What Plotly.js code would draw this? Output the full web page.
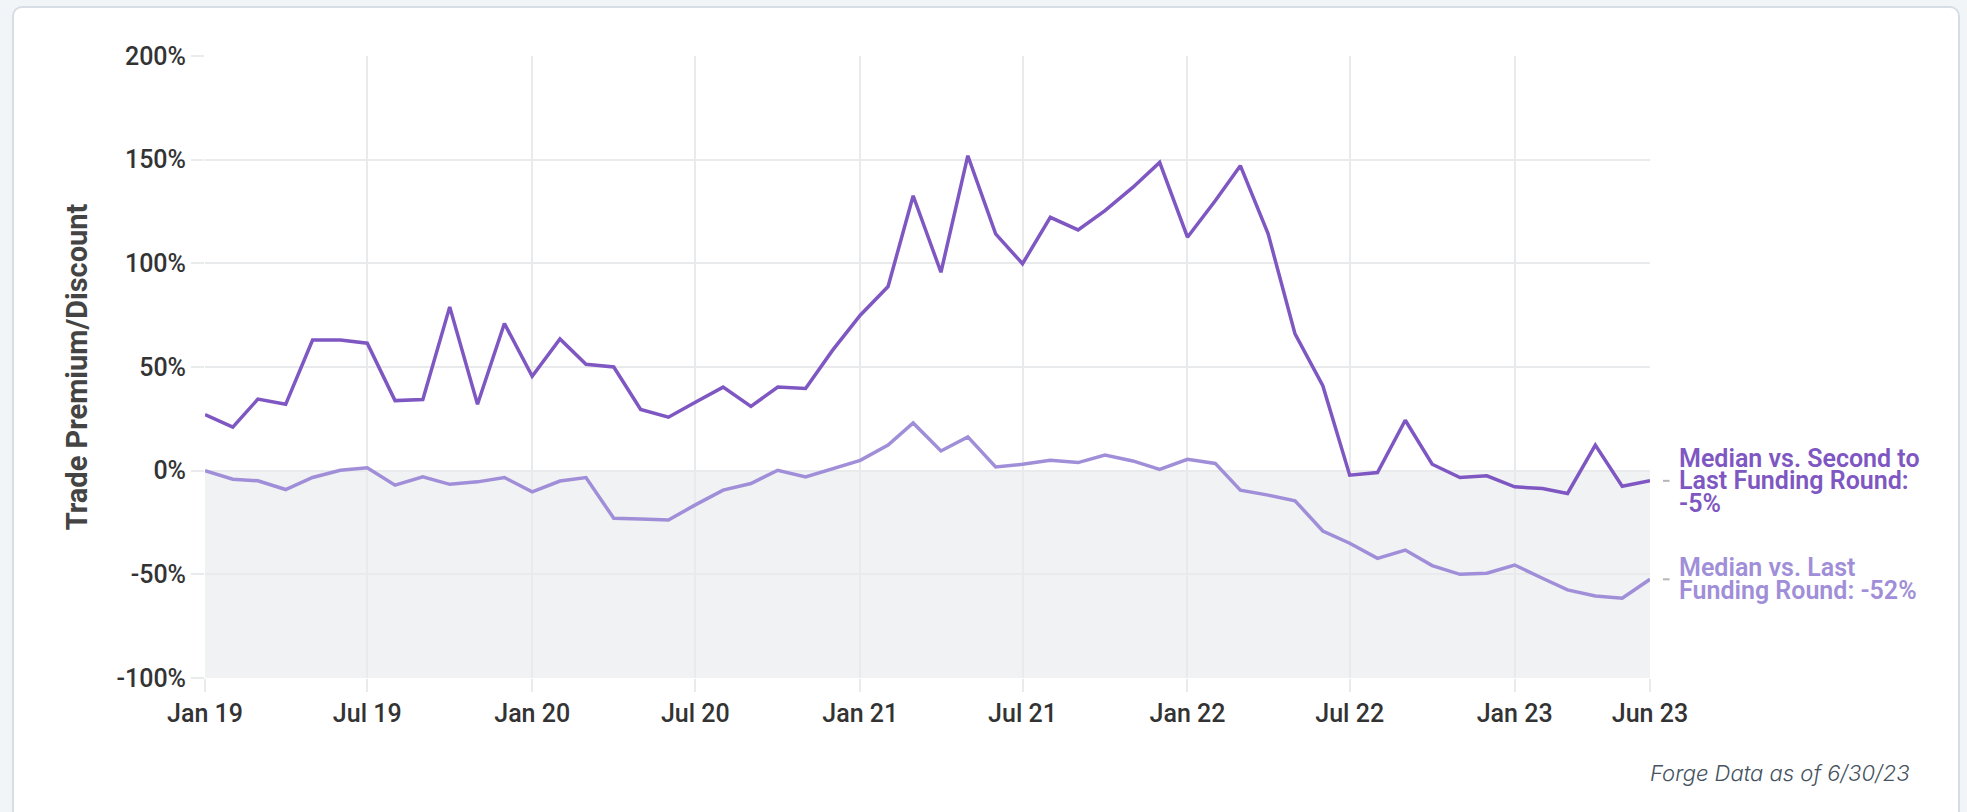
<!DOCTYPE html>
<html>
<head>
<meta charset="utf-8">
<script src="https://cdn.plot.ly/plotly-3.0.1.min.js"></script>
<style>
  html, body { margin: 0; padding: 0; width: 1967px; height: 812px; overflow: hidden; background: #f2f5f8; }
  #card { position: absolute; left: 12px; top: 6px; width: 1944px; height: 900px; background: #ffffff;
          border: 2px solid #d6dde4; border-radius: 10px; }
  #chart { position: absolute; left: 0; top: 0; width: 1967px; height: 812px; }
</style>
</head>
<body>
<div id="card"></div>
<div id="chart"></div>
<script>
// ---- data ----
const months = [
  '2019-01-01','2019-02-01','2019-03-01','2019-04-01','2019-05-01','2019-06-01',
  '2019-07-01','2019-08-01','2019-09-01','2019-10-01','2019-11-01','2019-12-01',
  '2020-01-01','2020-02-01','2020-03-01','2020-04-01','2020-05-01','2020-06-01',
  '2020-07-01','2020-08-01','2020-09-01','2020-10-01','2020-11-01','2020-12-01',
  '2021-01-01','2021-02-01','2021-03-01','2021-04-01','2021-05-01','2021-06-01',
  '2021-07-01','2021-08-01','2021-09-01','2021-10-01','2021-11-01','2021-12-01',
  '2022-01-01','2022-02-01','2022-03-01','2022-04-01','2022-05-01','2022-06-01',
  '2022-07-01','2022-08-01','2022-09-01','2022-10-01','2022-11-01','2022-12-01',
  '2023-01-01','2023-02-01','2023-03-01','2023-04-01','2023-05-01','2023-06-01'
];

const secondToLast = [
  27, 21, 34.5, 32, 63, 63, 61.5, 33.8, 34.3, 79, 32, 71,
  45.5, 63.5, 51.3, 50, 29.5, 25.8, 33, 40.3, 31, 40.3, 39.6, 58,
  75, 88.8, 132.6, 95.7, 151.9, 114.2, 99.8, 122.2, 116.1, 125.4, 136.6, 148.7,
  112.6, 130.2, 147.1, 114.2, 66, 41, -2.2, -0.9, 24.3, 3.1, -3.3, -2.5,
  -7.8, -8.6, -11, 12.3, -7.5, -4.9
];

const lastRound = [
  0, -4.1, -4.9, -9.1, -3.3, 0.2, 1.4, -7, -3, -6.6, -5.4, -3.3,
  -10.2, -5, -3.3, -23, -23.3, -23.8, -16.5, -9.4, -6.2, 0.2, -3, 1,
  5, 12.3, 23, 9.5, 16.3, 1.8, 3.1, 5, 3.9, 7.5, 4.7, 0.6,
  5.5, 3.5, -9.4, -11.8, -14.5, -29.1, -35, -42.3, -38.3, -45.8, -50, -49.5,
  -45.5, -51.9, -57.5, -60.4, -61.5, -52.4
];

const xTickVals = ['2019-01-01','2019-07-01','2020-01-01','2020-07-01','2021-01-01',
                   '2021-07-01','2022-01-01','2022-07-01','2023-01-01','2023-06-01'];
const xTickText = ['Jan 19','Jul 19','Jan 20','Jul 20','Jan 21','Jul 21','Jan 22','Jul 22','Jan 23','Jun 23'];
const yTickVals = [-100, -50, 0, 50, 100, 150, 200];
const yTickText = ['-100%', '-50%', '0%', '50%', '100%', '150%', '200%'];

const labelSecond = ['Median vs. Second to', 'Last Funding Round:', '-5%'];
const labelLast = ['Median vs. Last', 'Funding Round: -52%'];
const yAxisTitle = 'Trade Premium/Discount';
const footnote = 'Forge Data as of 6/30/23';

// ---- styles ----
const darkPurple = '#7e57c2';
const lightPurple = '#a08fd8';
const gridColor = '#e9eaec';

const traces = [
  { x: months, y: lastRound, type: 'scatter', mode: 'lines', name: 'Median vs. Last Funding Round',
    line: { color: lightPurple, width: 3.5 }, hoverinfo: 'skip' },
  { x: months, y: secondToLast, type: 'scatter', mode: 'lines', name: 'Median vs. Second to Last Funding Round',
    line: { color: darkPurple, width: 3.5 }, hoverinfo: 'skip' }
];

const lastX = months[months.length - 1];
const lastS = secondToLast[secondToLast.length - 1];
const lastL = lastRound[lastRound.length - 1];
const lineGap = 22.7;

const annotations = [];
labelSecond.forEach((t, i) => {
  annotations.push({ x: lastX, y: lastS, xref: 'x', yref: 'y', text: t, showarrow: false,
    xanchor: 'left', yanchor: 'middle', xshift: 27,
    yshift: ((labelSecond.length - 1) / 2 - i) * lineGap,
    font: { family: 'Roboto, sans-serif', size: 25, weight: 600, color: darkPurple } });
});
labelLast.forEach((t, i) => {
  annotations.push({ x: lastX, y: lastL, xref: 'x', yref: 'y', text: t, showarrow: false,
    xanchor: 'left', yanchor: 'middle', xshift: 27,
    yshift: ((labelLast.length - 1) / 2 - i) * lineGap,
    font: { family: 'Roboto, sans-serif', size: 25, weight: 600, color: lightPurple } });
});
annotations.push({ x: 1.181, y: -0.153, xref: 'paper', yref: 'paper', text: '<i>' + footnote + '</i>',
  showarrow: false, xanchor: 'right', yanchor: 'middle',
  font: { family: 'Inter, "Open Sans", sans-serif', size: 22, weight: 300, color: '#46525e' } });

const shapes = [
  { type: 'rect', xref: 'paper', yref: 'y', x0: 0, x1: 1, y0: -100, y1: 0,
    fillcolor: '#f1f2f4', line: { width: 0 }, layer: 'below' },
  { type: 'line', xref: 'paper', yref: 'y', x0: 1.009, x1: 1.0135, y0: lastS, y1: lastS,
    line: { color: '#b5b5b5', width: 2 } },
  { type: 'line', xref: 'paper', yref: 'y', x0: 1.009, x1: 1.0135, y0: lastL, y1: lastL,
    line: { color: '#b5b5b5', width: 2 } }
];

const layout = {
  width: 1967, height: 812,
  margin: { l: 205, r: 317, t: 56, b: 134 },
  paper_bgcolor: 'rgba(0,0,0,0)',
  plot_bgcolor: 'rgba(0,0,0,0)',
  showlegend: false,
  xaxis: {
    type: 'date',
    range: [months[0], months[months.length - 1]],
    tickvals: xTickVals, ticktext: xTickText,
    showgrid: true, gridcolor: gridColor, gridwidth: 2,
    ticks: 'outside', ticklen: 13, tickcolor: gridColor, tickwidth: 2,
    zeroline: false, showline: false,
    tickfont: { family: 'Roboto, sans-serif', size: 25, weight: 500, color: '#333333' }
  },
  yaxis: {
    range: [-100, 200],
    tickvals: yTickVals, ticktext: yTickText,
    showgrid: true, gridcolor: gridColor, gridwidth: 2,
    ticks: 'outside', ticklen: 13, tickcolor: gridColor, tickwidth: 2,
    zeroline: false, showline: false,
    tickfont: { family: 'Roboto, sans-serif', size: 25, weight: 500, color: '#333333' },
    title: { text: yAxisTitle, standoff: 20,
      font: { family: 'Roboto, sans-serif', size: 29, weight: 700, color: '#444444' } }
  },
  shapes: shapes,
  annotations: annotations
};

Plotly.newPlot('chart', traces, layout, { staticPlot: true, displayModeBar: false });
</script>
</body>
</html>
